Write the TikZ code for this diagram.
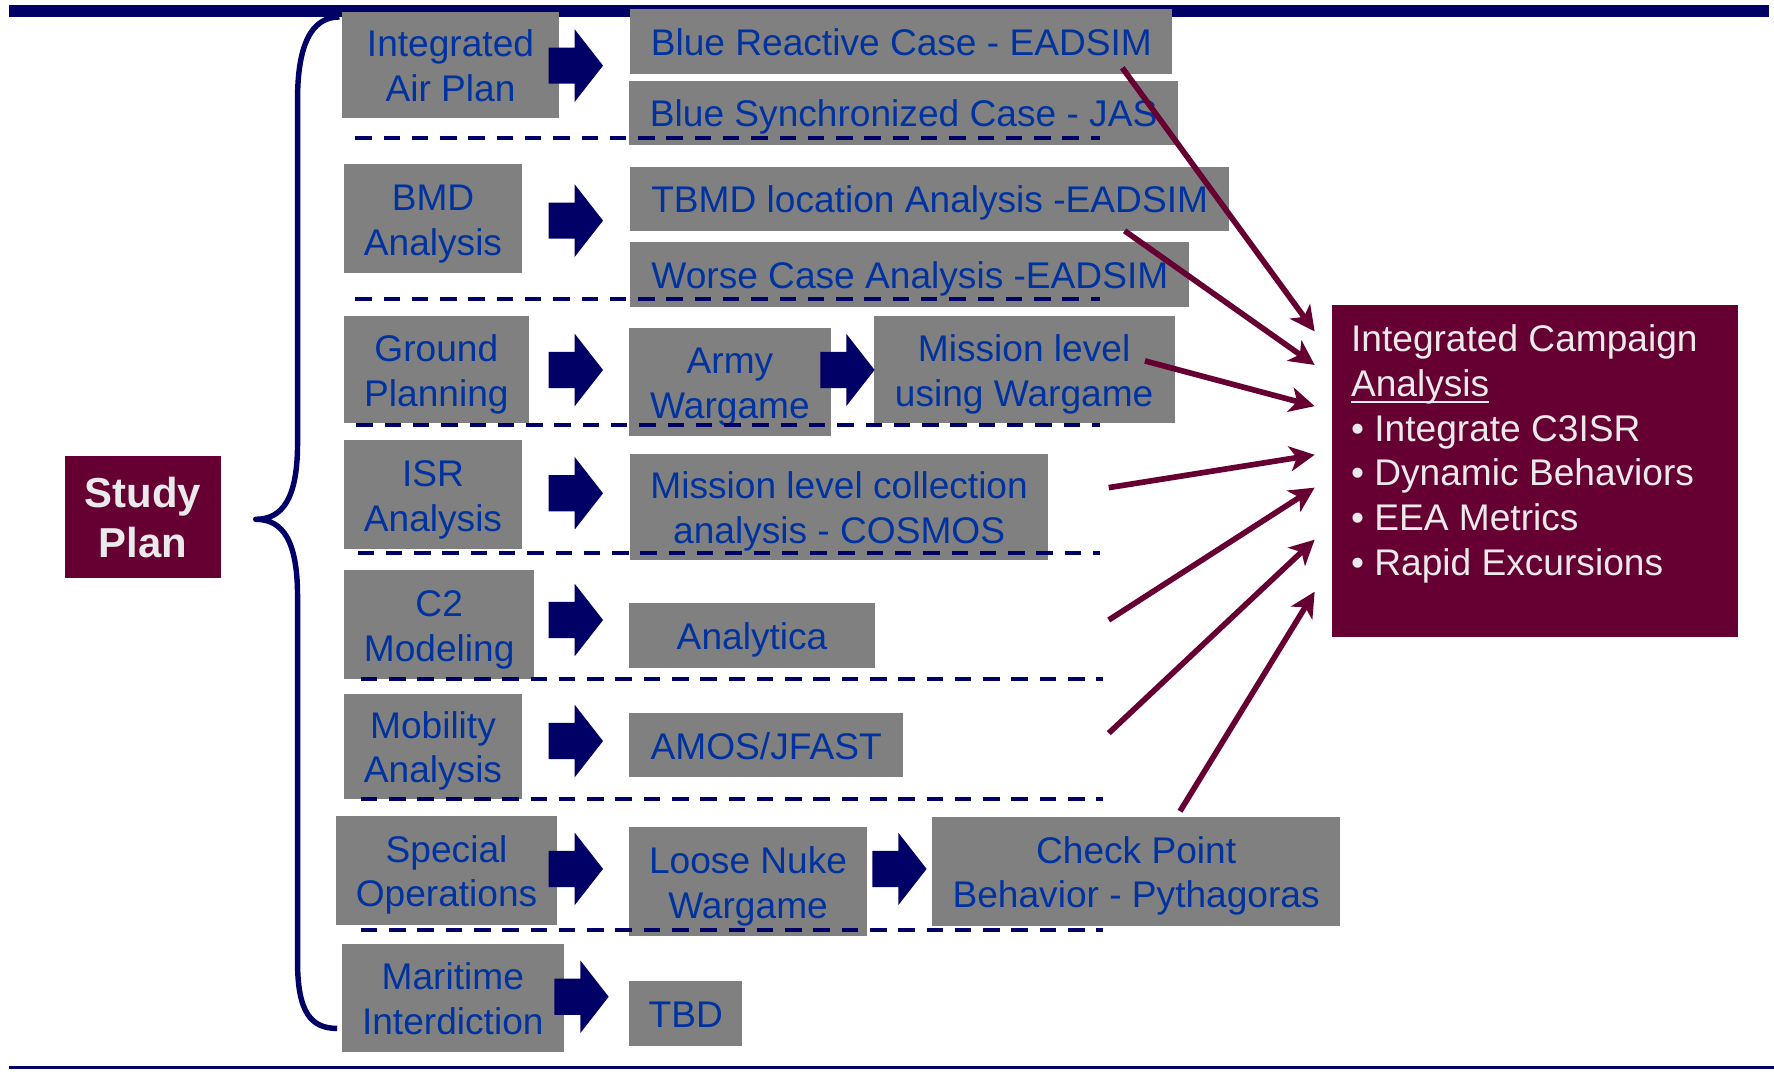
\documentclass[tikz,border=0pt]{standalone}
\usepackage{fontspec}
\setmainfont{Liberation Sans}
\usetikzlibrary{arrows.meta,calc}
\definecolor{navy}{RGB}{0,0,102}
\definecolor{maroon}{RGB}{102,0,51}
\definecolor{boxgray}{RGB}{128,128,128}
\definecolor{txtblue}{RGB}{0,51,160}
\definecolor{lighttxt}{RGB}{234,234,234}
\newcommand\ulword[1]{\setbox0=\hbox{#1}\rlap{\rule[-6pt]{\wd0}{2.2pt}}\box0}
\newcommand\barrow[2]{\fill[navy] (#1,#2-16) -- ++(23,0) -- ++(0,-16) -- ++(25,32) -- ++(-25,32) -- ++(0,-16) -- ++(-23,0) -- cycle;}
\tikzset{
  gbox/.style={fill=boxgray, inner sep=0pt, text=txtblue, align=center,
    font=\fontsize{32.8}{39.5}\selectfont, anchor=north west},
  one/.style={text height=25pt, text depth=0pt},
  two/.style={text height=64.5pt, text depth=0pt},
  sepline/.style={navy, line width=3.6pt, dash pattern=on 14.6pt off 10.4pt},
  feed/.style={maroon, line width=5pt, -{Stealth[length=22pt,width=22pt,inset=6pt]}},
}
\begin{document}
\begin{tikzpicture}[x=1pt,y=-1pt]
\useasboundingbox (0,0) rectangle (1568,947);
% frame bars
\fill[navy] (8,4.5) rectangle (1564,14.8);
\fill[navy] (8,942.5) rectangle (1568,945.2);
% brace
\draw[navy, line width=4.8pt, line join=round]
  (300,15) .. controls (275,15) and (263,40) .. (263,88) -- (263,392)
  .. controls (263,440) and (250,459) .. (226,459)
  .. controls (250,459) and (263,478) .. (263,527) -- (263,850)
  .. controls (263,895) and (275,909) .. (298,909);
% study plan
\node[fill=maroon, inner sep=0pt, minimum width=138pt, minimum height=108pt, anchor=north west,
  text=lighttxt, align=center, font=\bfseries\fontsize{37}{44}\selectfont] (sp) at (57,403) {Study\\Plan};
% left boxes
\node[gbox, two, minimum width=192pt, minimum height=94pt] (ia) at (302,10) {Integrated\\Air Plan};
\node[gbox, two, minimum width=157pt, minimum height=96pt] (bmd) at (304,145) {BMD\\Analysis};
\node[gbox, two, minimum width=163pt, minimum height=95pt] (gp) at (304,279) {Ground\\Planning};
\node[gbox, two, minimum width=157pt, minimum height=96pt] (isr) at (304,389) {ISR\\Analysis};
\node[gbox, two, minimum width=168pt, minimum height=96pt] (c2) at (304,504) {C2\\Modeling};
\node[gbox, two, minimum width=157pt, minimum height=93pt] (mob) at (304,613) {Mobility\\Analysis};
\node[gbox, two, minimum width=195pt, minimum height=96pt] (so) at (297,721) {Special\\Operations};
\node[gbox, two, minimum width=196pt, minimum height=96pt] (mi) at (302,834) {Maritime\\Interdiction};
% right boxes
\node[gbox, one, minimum width=479pt, minimum height=57pt] (r1a) at (557,8) {Blue Reactive Case - EADSIM};
\node[gbox, one, minimum width=485pt, minimum height=57pt] (r1b) at (556,71) {Blue Synchronized Case - JAS};
\node[gbox, one, minimum width=529pt, minimum height=57pt] (r2a) at (557,147) {TBMD location Analysis -EADSIM};
\node[gbox, one, minimum width=494pt, minimum height=57pt] (r2b) at (557,214) {Worse Case Analysis -EADSIM};
\node[gbox, two, minimum width=178pt, minimum height=95pt] (r3a) at (556,290) {Army\\Wargame};
\node[gbox, two, minimum width=266pt, minimum height=95pt] (r3b) at (772,279) {Mission level\\using Wargame};
\node[gbox, two, minimum width=369pt, minimum height=94pt] (r4) at (557,401) {Mission level collection\\analysis - COSMOS};
\node[gbox, one, minimum width=217pt, minimum height=57pt] (r5) at (556,533) {Analytica};
\node[gbox, one, minimum width=242pt, minimum height=57pt] (r6) at (556,630) {AMOS/JFAST};
\node[gbox, two, minimum width=210pt, minimum height=96pt] (r7a) at (556,731) {Loose Nuke\\Wargame};
\node[gbox, two, minimum width=360pt, minimum height=96pt] (r7b) at (824,722) {Check Point\\Behavior - Pythagoras};
\node[gbox, one, minimum width=100pt, minimum height=57pt] (r8) at (556,867) {TBD};
% campaign box
\node[fill=maroon, inner sep=0pt, minimum width=359pt, minimum height=294pt, anchor=north west] (ica) at (1177,269) {};
\node[anchor=north west, inner sep=0pt, text=lighttxt, align=left,
  font=\fontsize{32.8}{39.5}\selectfont] (icatext) at (1194,287)
  {Integrated Campaign\\\ulword{Analysis}\\• Integrate C3ISR\\• Dynamic Behaviors\\• EEA Metrics\\• Rapid Excursions};
% separators
\draw[sepline] (314,122) -- (972,122);
\draw[sepline] (314,264) -- (972,264);
\draw[sepline] (315,375.5) -- (972,375.5);
\draw[sepline] (316,489) -- (972,489);
\draw[sepline] (319,600) -- (975,600);
\draw[sepline] (319,706) -- (975,706);
\draw[sepline] (319,822) -- (975,822);
% block arrows
\barrow{485}{58}
\barrow{485}{195}
\barrow{485}{327}
\barrow{485}{436}
\barrow{485}{548}
\barrow{485}{655}
\barrow{485}{768}
\barrow{490}{881}
\barrow{725}{327}
\barrow{771}{768}
% feed arrows
\coordinate (s1) at (992,60);
\coordinate (s2) at (994,204);
\coordinate (s3) at (1012,319);
\coordinate (s4) at (980,431);
\coordinate (s5) at (980,548);
\coordinate (s6) at (980,648);
\coordinate (s7) at (1043,717);
\coordinate (e1) at ($(ica.north west)+(-15,24)$);
\coordinate (e2) at ($(ica.north west)+(-15,53.6)$);
\coordinate (e3) at ($(ica.north west)+(-15,90)$);
\coordinate (e4) at ($(ica.north west)+(-15,133)$);
\coordinate (e5) at ($(ica.north west)+(-15,162)$);
\coordinate (e6) at ($(ica.north west)+(-15,208)$);
\coordinate (e7) at ($(ica.north west)+(-15,254)$);
\foreach \i in {1,...,7} { \draw[feed] (s\i) -- (e\i); }
\end{tikzpicture}
\end{document}
